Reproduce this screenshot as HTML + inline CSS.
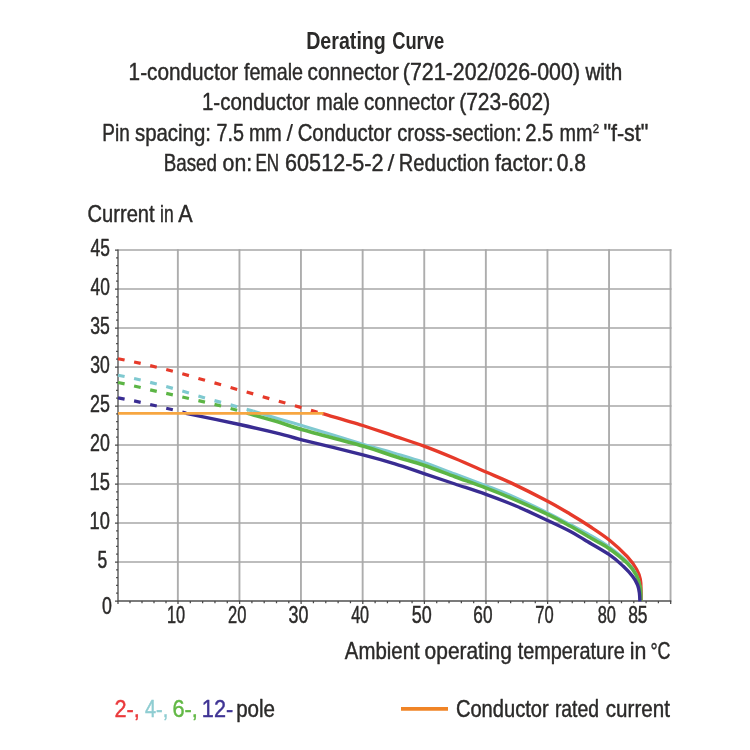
<!DOCTYPE html>
<html><head><meta charset="utf-8"><title>Derating Curve</title>
<style>
html,body{margin:0;padding:0;background:#fff;}
body{width:750px;height:750px;overflow:hidden;position:relative;}
svg text{font-family:"Liberation Sans",sans-serif;font-kerning:none;}
</style></head><body>
<svg width="750" height="750" viewBox="0 0 750 750" style="display:block;position:absolute;left:0;top:0;will-change:transform;transform:translateZ(0)">
<rect width="750" height="750" fill="#fff"/>
<path d="M177.85 249.15 V601.0 M239.45 249.15 V601.0 M300.95 249.15 V601.0 M362.65 249.15 V601.0 M424.25 249.15 V601.0 M485.85 249.15 V601.0 M547.45 249.15 V601.0 M609.05 249.15 V601.0 M670.55 249.15 V601.0" stroke="#adadad" stroke-width="1.9" fill="none"/>
<path d="M118.0 561.90 H671.50 M118.0 522.90 H671.50 M118.0 483.90 H671.50 M118.0 444.90 H671.50 M118.0 405.90 H671.50 M118.0 366.90 H671.50 M118.0 327.90 H671.50 M118.0 288.90 H671.50 M118.0 249.90 H671.50" stroke="#a8a8a8" stroke-width="1.5" fill="none"/>
<path d="M118.0 249.5 V601.0 H671.3" stroke="#505050" stroke-width="1.35" fill="none"/>
<path d="M118.0 601.00 h-3.0 M118.0 593.20 h-1.9 M118.0 585.40 h-1.9 M118.0 577.60 h-1.9 M118.0 569.80 h-1.9 M118.0 562.00 h-3.0 M118.0 554.20 h-1.9 M118.0 546.40 h-1.9 M118.0 538.60 h-1.9 M118.0 530.80 h-1.9 M118.0 523.00 h-3.0 M118.0 515.20 h-1.9 M118.0 507.40 h-1.9 M118.0 499.60 h-1.9 M118.0 491.80 h-1.9 M118.0 484.00 h-3.0 M118.0 476.20 h-1.9 M118.0 468.40 h-1.9 M118.0 460.60 h-1.9 M118.0 452.80 h-1.9 M118.0 445.00 h-3.0 M118.0 437.20 h-1.9 M118.0 429.40 h-1.9 M118.0 421.60 h-1.9 M118.0 413.80 h-1.9 M118.0 406.00 h-3.0 M118.0 398.20 h-1.9 M118.0 390.40 h-1.9 M118.0 382.60 h-1.9 M118.0 374.80 h-1.9 M118.0 367.00 h-3.0 M118.0 359.20 h-1.9 M118.0 351.40 h-1.9 M118.0 343.60 h-1.9 M118.0 335.80 h-1.9 M118.0 328.00 h-3.0 M118.0 320.20 h-1.9 M118.0 312.40 h-1.9 M118.0 304.60 h-1.9 M118.0 296.80 h-1.9 M118.0 289.00 h-3.0 M118.0 281.20 h-1.9 M118.0 273.40 h-1.9 M118.0 265.60 h-1.9 M118.0 257.80 h-1.9 M118.0 250.00 h-3.0 M118.00 601.0 v3.0 M130.00 601.0 v2.3 M142.00 601.0 v2.3 M154.00 601.0 v2.3 M166.00 601.0 v2.3 M178.00 601.0 v3.0 M190.32 601.0 v2.3 M202.64 601.0 v2.3 M214.96 601.0 v2.3 M227.28 601.0 v2.3 M239.60 601.0 v3.0 M251.90 601.0 v2.3 M264.20 601.0 v2.3 M276.50 601.0 v2.3 M288.80 601.0 v2.3 M301.10 601.0 v3.0 M313.44 601.0 v2.3 M325.78 601.0 v2.3 M338.12 601.0 v2.3 M350.46 601.0 v2.3 M362.80 601.0 v3.0 M375.12 601.0 v2.3 M387.44 601.0 v2.3 M399.76 601.0 v2.3 M412.08 601.0 v2.3 M424.40 601.0 v3.0 M436.72 601.0 v2.3 M449.04 601.0 v2.3 M461.36 601.0 v2.3 M473.68 601.0 v2.3 M486.00 601.0 v3.0 M498.32 601.0 v2.3 M510.64 601.0 v2.3 M522.96 601.0 v2.3 M535.28 601.0 v2.3 M547.60 601.0 v3.0 M559.92 601.0 v2.3 M572.24 601.0 v2.3 M584.56 601.0 v2.3 M596.88 601.0 v2.3 M609.20 601.0 v3.0 M621.50 601.0 v2.3 M633.80 601.0 v2.3 M646.10 601.0 v2.3 M658.40 601.0 v2.3 M670.70 601.0 v3.0" stroke="#484848" stroke-width="1.25" fill="none"/>
<path d="M118.00 358.70 L124.60 360.05 M134.08 361.98 L140.68 363.41 M150.16 365.60 L156.76 367.19 M166.24 369.56 L172.84 371.25 M182.32 373.77 L188.92 375.61 M198.40 378.43 L205.00 380.32 M214.48 382.90 L221.08 384.76 M230.56 387.55 L237.16 389.45 M246.64 392.04 L253.24 393.91 M262.72 396.70 L269.32 398.59 M278.80 401.17 L285.40 403.01 M294.88 405.74 L301.48 407.64 M310.96 410.39 L317.56 412.30" stroke="#e63a2a" stroke-width="3.2" fill="none"/>
<path d="M322.40 413.70 C329.15 415.67 350.80 421.73 362.90 425.50 C375.00 429.27 384.82 432.87 395.00 436.30 C405.18 439.73 414.00 442.40 424.00 446.10 C434.00 449.80 444.67 454.18 455.00 458.50 C465.33 462.82 476.83 468.02 486.00 472.00 C495.17 475.98 499.72 477.52 510.00 482.40 C520.28 487.28 537.70 496.03 547.70 501.30 C557.70 506.57 562.95 509.80 570.00 514.00 C577.05 518.20 583.45 522.17 590.00 526.50 C596.55 530.83 603.08 534.97 609.30 540.00 C615.52 545.03 622.73 551.78 627.30 556.70 C631.87 561.62 634.53 565.73 636.70 569.50 C638.87 573.27 639.58 575.88 640.30 579.30 C641.02 582.72 640.88 586.38 641.00 590.00 C641.12 593.62 641.00 599.17 641.00 601.00" stroke="#e63a2a" stroke-width="3.4" fill="none" stroke-linecap="butt" stroke-linejoin="round"/>
<path d="M118.00 375.20 L124.60 376.55 M134.08 378.48 L140.68 379.97 M150.16 382.34 L156.76 384.04 M166.24 386.55 L172.84 388.34 M182.32 391.04 L188.92 392.99 M198.40 395.97 L205.00 397.94 M214.48 400.61 L221.08 402.40 M230.56 404.87 L237.16 406.67 M246.64 409.42 L253.00 411.00" stroke="#7fc9d0" stroke-width="3.2" fill="none"/>
<path d="M253.00 411.00 C257.50 412.38 272.03 416.93 280.00 419.30 C287.97 421.67 286.98 421.07 300.80 425.20 C314.62 429.33 347.20 439.40 362.90 444.10 C378.60 448.80 384.82 450.35 395.00 453.40 C405.18 456.45 414.00 458.97 424.00 462.40 C434.00 465.83 444.67 470.13 455.00 474.00 C465.33 477.87 476.83 482.07 486.00 485.60 C495.17 489.13 499.72 490.67 510.00 495.20 C520.28 499.73 537.70 507.93 547.70 512.80 C557.70 517.67 562.95 520.70 570.00 524.40 C577.05 528.10 583.45 531.23 590.00 535.00 C596.55 538.77 603.08 542.50 609.30 547.00 C615.52 551.50 622.85 557.50 627.30 562.00 C631.75 566.50 633.88 569.83 636.00 574.00 C638.12 578.17 639.23 582.50 640.00 587.00 C640.77 591.50 640.50 598.67 640.60 601.00" stroke="#7fc9d0" stroke-width="3.0" fill="none" stroke-linecap="butt" stroke-linejoin="round"/>
<path d="M118.00 382.50 L124.60 383.91 M134.08 385.95 L140.68 387.47 M150.16 389.84 L156.76 391.38 M166.24 393.41 L172.84 394.86 M182.32 397.02 L188.92 398.52 M198.40 400.67 L205.00 402.18 M214.48 404.37 L221.08 405.98 M230.56 408.48 L237.16 410.29 M246.64 413.08 L248.40 413.60" stroke="#5cb545" stroke-width="3.2" fill="none"/>
<path d="M248.40 413.60 C253.67 415.08 271.27 419.90 280.00 422.50 C288.73 425.10 286.98 425.28 300.80 429.20 C314.62 433.12 347.20 441.45 362.90 446.00 C378.60 450.55 384.82 453.28 395.00 456.50 C405.18 459.72 414.00 461.93 424.00 465.30 C434.00 468.67 444.67 472.92 455.00 476.70 C465.33 480.48 476.83 484.52 486.00 488.00 C495.17 491.48 499.72 493.20 510.00 497.60 C520.28 502.00 537.70 509.67 547.70 514.40 C557.70 519.13 562.22 521.73 570.00 526.00 C577.78 530.27 587.85 536.22 594.40 540.00 C600.95 543.78 603.82 544.82 609.30 548.70 C614.78 552.58 622.82 558.92 627.30 563.30 C631.78 567.68 634.03 570.97 636.20 575.00 C638.37 579.03 639.52 583.17 640.30 587.50 C641.08 591.83 640.80 598.75 640.90 601.00" stroke="#5cb545" stroke-width="3.6" fill="none" stroke-linecap="butt" stroke-linejoin="round"/>
<path d="M118.00 397.90 L124.60 399.15 M134.08 400.94 L140.68 402.31 M150.16 404.50 L156.76 406.03 M166.24 408.23 L172.84 409.79 M182.32 412.10 L186.00 413.00" stroke="#392c92" stroke-width="3.2" fill="none"/>
<path d="M186.00 413.30 C194.93 415.17 223.93 421.08 239.60 424.50 C255.27 427.92 269.80 431.28 280.00 433.80 C290.20 436.32 286.98 436.10 300.80 439.60 C314.62 443.10 347.20 450.77 362.90 454.80 C378.60 458.83 384.82 460.67 395.00 463.80 C405.18 466.93 414.00 470.23 424.00 473.60 C434.00 476.97 444.67 480.53 455.00 484.00 C465.33 487.47 475.83 490.73 486.00 494.40 C496.17 498.07 505.72 501.65 516.00 506.00 C526.28 510.35 538.70 516.28 547.70 520.50 C556.70 524.72 563.82 528.05 570.00 531.30 C576.18 534.55 578.25 536.12 584.80 540.00 C591.35 543.88 602.88 550.22 609.30 554.60 C615.72 558.98 619.40 562.65 623.30 566.30 C627.20 569.95 630.32 573.38 632.70 576.50 C635.08 579.62 636.48 582.25 637.60 585.00 C638.72 587.75 639.02 590.28 639.40 593.00 C639.78 595.72 639.82 599.92 639.90 601.30" stroke="#392c92" stroke-width="3.4" fill="none" stroke-linecap="butt" stroke-linejoin="round"/>
<path d="M118 413.4 H323.5" stroke="#f7a641" stroke-width="2.7" fill="none"/>
<path d="M401 708.9 H448" stroke="#f08426" stroke-width="3.7" fill="none"/>
<text x="306.19" y="49.40" font-size="23.80" font-weight="700" fill="#2b2a29" text-anchor="start" textLength="79.63" lengthAdjust="spacingAndGlyphs">Derating</text>
<text x="392.15" y="49.40" font-size="23.80" font-weight="700" fill="#2b2a29" text-anchor="start" textLength="51.98" lengthAdjust="spacingAndGlyphs">Curve</text>
<text x="128.62" y="79.80" font-size="23.80" font-weight="400" fill="#2b2a29" text-anchor="start" textLength="109.52" lengthAdjust="spacingAndGlyphs" stroke="#2b2a29" stroke-width="0.45" stroke-linejoin="round">1-conductor</text>
<text x="243.92" y="79.80" font-size="23.80" font-weight="400" fill="#2b2a29" text-anchor="start" textLength="59.15" lengthAdjust="spacingAndGlyphs" stroke="#2b2a29" stroke-width="0.45" stroke-linejoin="round">female</text>
<text x="307.62" y="79.80" font-size="23.80" font-weight="400" fill="#2b2a29" text-anchor="start" textLength="91.23" lengthAdjust="spacingAndGlyphs" stroke="#2b2a29" stroke-width="0.45" stroke-linejoin="round">connector</text>
<text x="402.87" y="79.80" font-size="23.80" font-weight="400" fill="#2b2a29" text-anchor="start" textLength="177.15" lengthAdjust="spacingAndGlyphs" stroke="#2b2a29" stroke-width="0.45" stroke-linejoin="round">(721-202/026-000)</text>
<text x="585.43" y="79.80" font-size="23.80" font-weight="400" fill="#2b2a29" text-anchor="start" textLength="36.81" lengthAdjust="spacingAndGlyphs" stroke="#2b2a29" stroke-width="0.45" stroke-linejoin="round">with</text>
<text x="201.94" y="110.20" font-size="23.80" font-weight="400" fill="#2b2a29" text-anchor="start" textLength="108.20" lengthAdjust="spacingAndGlyphs" stroke="#2b2a29" stroke-width="0.45" stroke-linejoin="round">1-conductor</text>
<text x="316.19" y="110.20" font-size="23.80" font-weight="400" fill="#2b2a29" text-anchor="start" textLength="42.89" lengthAdjust="spacingAndGlyphs" stroke="#2b2a29" stroke-width="0.45" stroke-linejoin="round">male</text>
<text x="364.02" y="110.20" font-size="23.80" font-weight="400" fill="#2b2a29" text-anchor="start" textLength="90.52" lengthAdjust="spacingAndGlyphs" stroke="#2b2a29" stroke-width="0.45" stroke-linejoin="round">connector</text>
<text x="459.20" y="110.20" font-size="23.80" font-weight="400" fill="#2b2a29" text-anchor="start" textLength="91.00" lengthAdjust="spacingAndGlyphs" stroke="#2b2a29" stroke-width="0.45" stroke-linejoin="round">(723-602)</text>
<text x="102.35" y="140.60" font-size="23.80" font-weight="400" fill="#2b2a29" text-anchor="start" textLength="27.38" lengthAdjust="spacingAndGlyphs" stroke="#2b2a29" stroke-width="0.45" stroke-linejoin="round">Pin</text>
<text x="134.93" y="140.60" font-size="23.80" font-weight="400" fill="#2b2a29" text-anchor="start" textLength="76.03" lengthAdjust="spacingAndGlyphs" stroke="#2b2a29" stroke-width="0.45" stroke-linejoin="round">spacing:</text>
<text x="216.49" y="140.60" font-size="23.80" font-weight="400" fill="#2b2a29" text-anchor="start" textLength="27.44" lengthAdjust="spacingAndGlyphs" stroke="#2b2a29" stroke-width="0.45" stroke-linejoin="round">7.5</text>
<text x="248.89" y="140.60" font-size="23.80" font-weight="400" fill="#2b2a29" text-anchor="start" textLength="32.91" lengthAdjust="spacingAndGlyphs" stroke="#2b2a29" stroke-width="0.45" stroke-linejoin="round">mm</text>
<text x="286.60" y="140.60" font-size="23.80" font-weight="400" fill="#2b2a29" text-anchor="start" textLength="6.50" lengthAdjust="spacingAndGlyphs" stroke="#2b2a29" stroke-width="0.15" stroke-linejoin="round">/</text>
<text x="297.67" y="140.60" font-size="23.80" font-weight="400" fill="#2b2a29" text-anchor="start" textLength="93.77" lengthAdjust="spacingAndGlyphs" stroke="#2b2a29" stroke-width="0.45" stroke-linejoin="round">Conductor</text>
<text x="397.24" y="140.60" font-size="23.80" font-weight="400" fill="#2b2a29" text-anchor="start" textLength="124.40" lengthAdjust="spacingAndGlyphs" stroke="#2b2a29" stroke-width="0.45" stroke-linejoin="round">cross-section:</text>
<text x="525.18" y="140.60" font-size="23.80" font-weight="400" fill="#2b2a29" text-anchor="start" textLength="28.17" lengthAdjust="spacingAndGlyphs" stroke="#2b2a29" stroke-width="0.45" stroke-linejoin="round">2.5</text>
<text x="559.38" y="140.60" font-size="23.80" font-weight="400" fill="#2b2a29" text-anchor="start" textLength="33.02" lengthAdjust="spacingAndGlyphs" stroke="#2b2a29" stroke-width="0.45" stroke-linejoin="round">mm</text>
<text x="603.39" y="140.60" font-size="23.80" font-weight="400" fill="#2b2a29" text-anchor="start" textLength="45.02" lengthAdjust="spacingAndGlyphs" stroke="#2b2a29" stroke-width="0.45" stroke-linejoin="round">&quot;f-st&quot;</text>
<text x="592.73" y="132.90" font-size="13.60" font-weight="400" fill="#2b2a29" text-anchor="start" textLength="6.35" lengthAdjust="spacingAndGlyphs" stroke="#2b2a29" stroke-width="0.45" stroke-linejoin="round">2</text>
<text x="163.76" y="171.00" font-size="23.80" font-weight="400" fill="#2b2a29" text-anchor="start" textLength="53.25" lengthAdjust="spacingAndGlyphs" stroke="#2b2a29" stroke-width="0.45" stroke-linejoin="round">Based</text>
<text x="222.61" y="171.00" font-size="23.80" font-weight="400" fill="#2b2a29" text-anchor="start" textLength="29.53" lengthAdjust="spacingAndGlyphs" stroke="#2b2a29" stroke-width="0.45" stroke-linejoin="round">on:</text>
<text x="255.50" y="171.00" font-size="23.80" font-weight="400" fill="#2b2a29" text-anchor="start" textLength="23.69" lengthAdjust="spacingAndGlyphs" stroke="#2b2a29" stroke-width="0.45" stroke-linejoin="round">EN</text>
<text x="285.10" y="171.00" font-size="23.80" font-weight="400" fill="#2b2a29" text-anchor="start" textLength="98.48" lengthAdjust="spacingAndGlyphs" stroke="#2b2a29" stroke-width="0.45" stroke-linejoin="round">60512-5-2</text>
<text x="387.50" y="171.00" font-size="23.80" font-weight="400" fill="#2b2a29" text-anchor="start" textLength="7.00" lengthAdjust="spacingAndGlyphs" stroke="#2b2a29" stroke-width="0.15" stroke-linejoin="round">/</text>
<text x="398.85" y="171.00" font-size="23.80" font-weight="400" fill="#2b2a29" text-anchor="start" textLength="90.56" lengthAdjust="spacingAndGlyphs" stroke="#2b2a29" stroke-width="0.45" stroke-linejoin="round">Reduction</text>
<text x="495.00" y="171.00" font-size="23.80" font-weight="400" fill="#2b2a29" text-anchor="start" textLength="58.73" lengthAdjust="spacingAndGlyphs" stroke="#2b2a29" stroke-width="0.45" stroke-linejoin="round">factor:</text>
<text x="556.68" y="171.00" font-size="23.80" font-weight="400" fill="#2b2a29" text-anchor="start" textLength="29.24" lengthAdjust="spacingAndGlyphs" stroke="#2b2a29" stroke-width="0.45" stroke-linejoin="round">0.8</text>
<text x="87.48" y="221.60" font-size="24.00" font-weight="400" fill="#2b2a29" text-anchor="start" textLength="67.17" lengthAdjust="spacingAndGlyphs" stroke="#2b2a29" stroke-width="0.45" stroke-linejoin="round">Current</text>
<text x="160.03" y="221.60" font-size="24.00" font-weight="400" fill="#2b2a29" text-anchor="start" textLength="13.60" lengthAdjust="spacingAndGlyphs" stroke="#2b2a29" stroke-width="0.45" stroke-linejoin="round">in</text>
<text x="178.16" y="221.60" font-size="24.00" font-weight="400" fill="#2b2a29" text-anchor="start" textLength="14.38" lengthAdjust="spacingAndGlyphs" stroke="#2b2a29" stroke-width="0.45" stroke-linejoin="round">A</text>
<text x="97.50" y="567.50" font-size="23.00" font-weight="400" fill="#2b2a29" text-anchor="start" textLength="9.74" lengthAdjust="spacingAndGlyphs" stroke="#2b2a29" stroke-width="0.45" stroke-linejoin="round">5</text>
<text x="89.51" y="528.50" font-size="23.00" font-weight="400" fill="#2b2a29" text-anchor="start" textLength="20.30" lengthAdjust="spacingAndGlyphs" stroke="#2b2a29" stroke-width="0.45" stroke-linejoin="round">10</text>
<text x="89.51" y="489.50" font-size="23.00" font-weight="400" fill="#2b2a29" text-anchor="start" textLength="20.36" lengthAdjust="spacingAndGlyphs" stroke="#2b2a29" stroke-width="0.45" stroke-linejoin="round">15</text>
<text x="90.01" y="450.50" font-size="23.00" font-weight="400" fill="#2b2a29" text-anchor="start" textLength="19.79" lengthAdjust="spacingAndGlyphs" stroke="#2b2a29" stroke-width="0.45" stroke-linejoin="round">20</text>
<text x="90.00" y="411.50" font-size="23.00" font-weight="400" fill="#2b2a29" text-anchor="start" textLength="19.85" lengthAdjust="spacingAndGlyphs" stroke="#2b2a29" stroke-width="0.45" stroke-linejoin="round">25</text>
<text x="90.23" y="372.50" font-size="23.00" font-weight="400" fill="#2b2a29" text-anchor="start" textLength="19.56" lengthAdjust="spacingAndGlyphs" stroke="#2b2a29" stroke-width="0.45" stroke-linejoin="round">30</text>
<text x="90.23" y="333.50" font-size="23.00" font-weight="400" fill="#2b2a29" text-anchor="start" textLength="19.61" lengthAdjust="spacingAndGlyphs" stroke="#2b2a29" stroke-width="0.45" stroke-linejoin="round">35</text>
<text x="90.50" y="294.50" font-size="23.00" font-weight="400" fill="#2b2a29" text-anchor="start" textLength="19.27" lengthAdjust="spacingAndGlyphs" stroke="#2b2a29" stroke-width="0.45" stroke-linejoin="round">40</text>
<text x="90.50" y="255.50" font-size="23.00" font-weight="400" fill="#2b2a29" text-anchor="start" textLength="19.33" lengthAdjust="spacingAndGlyphs" stroke="#2b2a29" stroke-width="0.45" stroke-linejoin="round">45</text>
<text x="101.91" y="614.40" font-size="23.00" font-weight="400" fill="#2b2a29" text-anchor="start" textLength="9.89" lengthAdjust="spacingAndGlyphs" stroke="#2b2a29" stroke-width="0.45" stroke-linejoin="round">0</text>
<text x="166.95" y="623.20" font-size="23.00" font-weight="400" fill="#2b2a29" text-anchor="start" textLength="18.18" lengthAdjust="spacingAndGlyphs" stroke="#2b2a29" stroke-width="0.45" stroke-linejoin="round">10</text>
<text x="228.07" y="623.20" font-size="23.00" font-weight="400" fill="#2b2a29" text-anchor="start" textLength="18.38" lengthAdjust="spacingAndGlyphs" stroke="#2b2a29" stroke-width="0.45" stroke-linejoin="round">20</text>
<text x="288.62" y="623.20" font-size="23.00" font-weight="400" fill="#2b2a29" text-anchor="start" textLength="19.88" lengthAdjust="spacingAndGlyphs" stroke="#2b2a29" stroke-width="0.45" stroke-linejoin="round">30</text>
<text x="351.13" y="623.20" font-size="23.00" font-weight="400" fill="#2b2a29" text-anchor="start" textLength="18.00" lengthAdjust="spacingAndGlyphs" stroke="#2b2a29" stroke-width="0.45" stroke-linejoin="round">40</text>
<text x="411.78" y="623.20" font-size="23.00" font-weight="400" fill="#2b2a29" text-anchor="start" textLength="20.02" lengthAdjust="spacingAndGlyphs" stroke="#2b2a29" stroke-width="0.45" stroke-linejoin="round">50</text>
<text x="473.33" y="623.20" font-size="23.00" font-weight="400" fill="#2b2a29" text-anchor="start" textLength="19.15" lengthAdjust="spacingAndGlyphs" stroke="#2b2a29" stroke-width="0.45" stroke-linejoin="round">60</text>
<text x="535.35" y="623.20" font-size="23.00" font-weight="400" fill="#2b2a29" text-anchor="start" textLength="18.39" lengthAdjust="spacingAndGlyphs" stroke="#2b2a29" stroke-width="0.45" stroke-linejoin="round">70</text>
<text x="597.69" y="623.20" font-size="23.00" font-weight="400" fill="#2b2a29" text-anchor="start" textLength="18.25" lengthAdjust="spacingAndGlyphs" stroke="#2b2a29" stroke-width="0.45" stroke-linejoin="round">80</text>
<text x="628.14" y="623.20" font-size="23.00" font-weight="400" fill="#2b2a29" text-anchor="start" textLength="19.39" lengthAdjust="spacingAndGlyphs" stroke="#2b2a29" stroke-width="0.45" stroke-linejoin="round">85</text>
<text x="344.86" y="658.70" font-size="24.00" font-weight="400" fill="#2b2a29" text-anchor="start" textLength="74.79" lengthAdjust="spacingAndGlyphs" stroke="#2b2a29" stroke-width="0.45" stroke-linejoin="round">Ambient</text>
<text x="424.62" y="658.70" font-size="24.00" font-weight="400" fill="#2b2a29" text-anchor="start" textLength="87.23" lengthAdjust="spacingAndGlyphs" stroke="#2b2a29" stroke-width="0.45" stroke-linejoin="round">operating</text>
<text x="517.70" y="658.70" font-size="24.00" font-weight="400" fill="#2b2a29" text-anchor="start" textLength="106.98" lengthAdjust="spacingAndGlyphs" stroke="#2b2a29" stroke-width="0.45" stroke-linejoin="round">temperature</text>
<text x="629.87" y="658.70" font-size="24.00" font-weight="400" fill="#2b2a29" text-anchor="start" textLength="16.61" lengthAdjust="spacingAndGlyphs" stroke="#2b2a29" stroke-width="0.45" stroke-linejoin="round">in</text>
<text x="650.44" y="658.70" font-size="24.00" font-weight="400" fill="#2b2a29" text-anchor="start" textLength="20.04" lengthAdjust="spacingAndGlyphs" stroke="#2b2a29" stroke-width="0.45" stroke-linejoin="round">°C</text>
<text x="114.41" y="716.80" font-size="24.20" font-weight="400" fill="#ea3a3c" text-anchor="start" textLength="25.34" lengthAdjust="spacingAndGlyphs" stroke="#ea3a3c" stroke-width="0.45" stroke-linejoin="round">2-,</text>
<text x="145.04" y="716.80" font-size="24.20" font-weight="400" fill="#8fcdd2" text-anchor="start" textLength="23.25" lengthAdjust="spacingAndGlyphs" stroke="#8fcdd2" stroke-width="0.45" stroke-linejoin="round">4-,</text>
<text x="172.40" y="716.80" font-size="24.20" font-weight="400" fill="#62b845" text-anchor="start" textLength="25.36" lengthAdjust="spacingAndGlyphs" stroke="#62b845" stroke-width="0.45" stroke-linejoin="round">6-,</text>
<text x="201.85" y="716.80" font-size="24.20" font-weight="400" fill="#3f3494" text-anchor="start" textLength="31.31" lengthAdjust="spacingAndGlyphs" stroke="#3f3494" stroke-width="0.45" stroke-linejoin="round">12-</text>
<text x="236.18" y="716.80" font-size="24.20" font-weight="400" fill="#2b2a29" text-anchor="start" textLength="38.84" lengthAdjust="spacingAndGlyphs" stroke="#2b2a29" stroke-width="0.45" stroke-linejoin="round">pole</text>
<text x="455.88" y="717.30" font-size="24.20" font-weight="400" fill="#2b2a29" text-anchor="start" textLength="92.86" lengthAdjust="spacingAndGlyphs" stroke="#2b2a29" stroke-width="0.45" stroke-linejoin="round">Conductor</text>
<text x="554.91" y="717.30" font-size="24.20" font-weight="400" fill="#2b2a29" text-anchor="start" textLength="44.13" lengthAdjust="spacingAndGlyphs" stroke="#2b2a29" stroke-width="0.45" stroke-linejoin="round">rated</text>
<text x="605.82" y="717.30" font-size="24.20" font-weight="400" fill="#2b2a29" text-anchor="start" textLength="64.13" lengthAdjust="spacingAndGlyphs" stroke="#2b2a29" stroke-width="0.45" stroke-linejoin="round">current</text>
</svg>
</body></html>
